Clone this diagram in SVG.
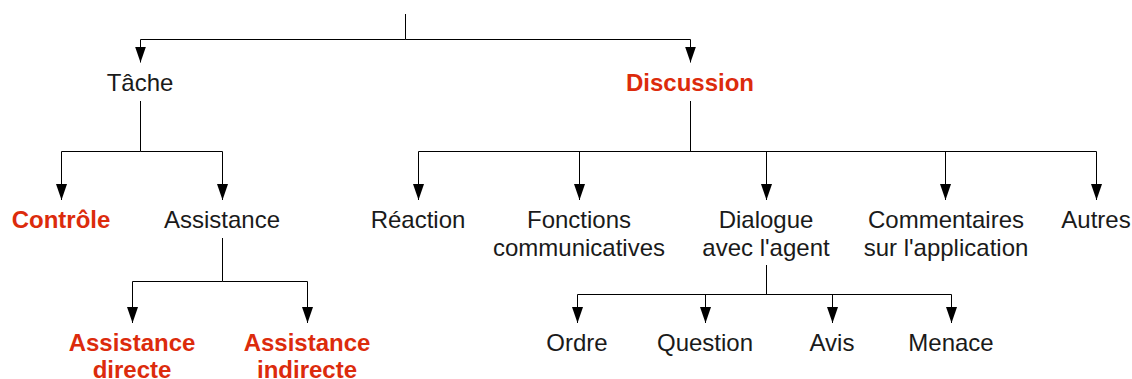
<svg xmlns="http://www.w3.org/2000/svg" width="1132" height="379" viewBox="0 0 1132 379">
<style>
text{font-family:"Liberation Sans",Arial,sans-serif;font-size:24px;text-anchor:middle;fill:#1a1a1a}
.r{fill:#dc2b0c;font-weight:bold}
.c path{fill:none;stroke:#000;stroke-width:1}
</style>
<defs>
<marker id="d" viewBox="0 0 16 11" refX="16" refY="5.5" markerWidth="16" markerHeight="11" markerUnits="userSpaceOnUse" orient="auto">
<path d="M0,0 L16,5.5 L0,11 Z" fill="#000"/>
</marker>
</defs>
<g class="c" id="connectors">
<path d="M405.5,14 V39.5"/>
<path d="M405.5,39.5 H140.5 V62.5" marker-end="url(#d)"/>
<path d="M405.5,39.5 H690.5 V62.5" marker-end="url(#d)"/>
<path d="M140.5,101 V151.5"/>
<path d="M140.5,151.5 H61.5 V200" marker-end="url(#d)"/>
<path d="M140.5,151.5 H222.5 V200" marker-end="url(#d)"/>
<path d="M222.5,238 V281.5"/>
<path d="M222.5,281.5 H132.5 V323" marker-end="url(#d)"/>
<path d="M222.5,281.5 H307.5 V323" marker-end="url(#d)"/>
<path d="M690.5,101 V151.5"/>
<path d="M690.5,151.5 H418.5 V200" marker-end="url(#d)"/>
<path d="M690.5,151.5 H579.5 V200" marker-end="url(#d)"/>
<path d="M690.5,151.5 H766.5 V200" marker-end="url(#d)"/>
<path d="M690.5,151.5 H945.5 V200" marker-end="url(#d)"/>
<path d="M690.5,151.5 H1096.5 V200" marker-end="url(#d)"/>
<path d="M766.5,265 V294.5"/>
<path d="M766.5,294.5 H577.5 V323" marker-end="url(#d)"/>
<path d="M766.5,294.5 H705.5 V323" marker-end="url(#d)"/>
<path d="M766.5,294.5 H832.5 V323" marker-end="url(#d)"/>
<path d="M766.5,294.5 H951.5 V323" marker-end="url(#d)"/>
</g>
<g id="tache"><text x="140" y="91">Tâche</text></g>
<g id="discussion"><text class="r" x="690" y="91">Discussion</text></g>
<g id="controle"><text class="r" x="61" y="228">Contrôle</text></g>
<g id="assistance"><text x="222" y="228">Assistance</text></g>
<g id="assistance-directe"><text class="r" x="132" y="350.5">Assistance</text><text class="r" x="132" y="377.5">directe</text></g>
<g id="assistance-indirecte"><text class="r" x="307" y="350.5">Assistance</text><text class="r" x="307" y="377.5">indirecte</text></g>
<g id="reaction"><text x="418" y="228">Réaction</text></g>
<g id="fonctions"><text x="579" y="228">Fonctions</text><text x="579" y="256">communicatives</text></g>
<g id="dialogue"><text x="766" y="228">Dialogue</text><text x="766" y="256">avec l'agent</text></g>
<g id="commentaires"><text x="946" y="228">Commentaires</text><text x="946" y="256">sur l'application</text></g>
<g id="autres"><text x="1096" y="228">Autres</text></g>
<g id="ordre"><text x="577" y="351">Ordre</text></g>
<g id="question"><text x="705" y="351">Question</text></g>
<g id="avis"><text x="832" y="351">Avis</text></g>
<g id="menace"><text x="951" y="351">Menace</text></g>
</svg>
